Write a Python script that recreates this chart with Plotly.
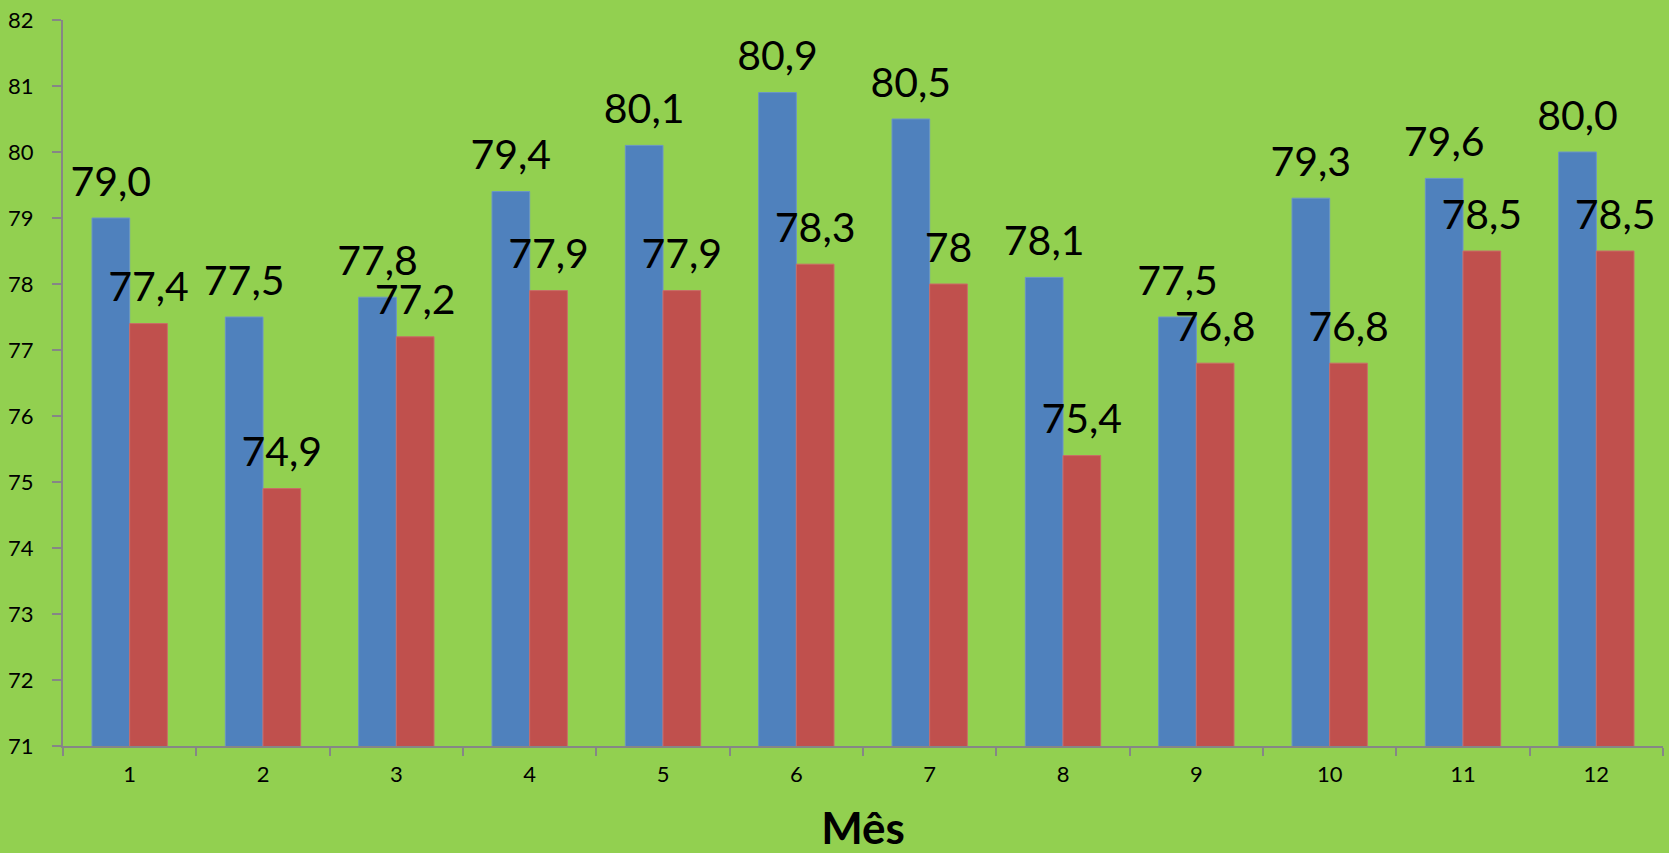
import plotly.graph_objects as go

meses = [str(m) for m in range(1, 13)]
serie_azul = [79.0, 77.5, 77.8, 79.4, 80.1, 80.9, 80.5, 78.1, 77.5, 79.3, 79.6, 80.0]
serie_vermelha = [77.4, 74.9, 77.2, 77.9, 77.9, 78.3, 78.0, 75.4, 76.8, 76.8, 78.5, 78.5]
y_ticks = list(range(71, 83))

FONT = "Lato"
VERDE = "#92D050"
CINZA = "#868686"


def rotulo_fixo(v):
    return f"{v:.1f}".replace(".", ",")


def rotulo_geral(v):
    return f"{v:g}".replace(".", ",")


fig = go.Figure()
series = [
    ("a", serie_azul, "#4F81BD", "#6A95C8", rotulo_fixo),
    ("v", serie_vermelha, "#C0504D", "#CB6B68", rotulo_geral),
]
for grupo, valores, cor, borda, fmt in series:
    fig.add_trace(go.Bar(
        x=meses, y=valores, offsetgroup=grupo,
        marker=dict(color=cor, line=dict(color=borda, width=1)),
    ))
for grupo, valores, cor, borda, fmt in series:
    # value labels sitting above each bar
    fig.add_trace(go.Scatter(
        x=meses, y=valores, offsetgroup=grupo,
        mode="markers+text",
        marker=dict(size=18, opacity=0),
        text=[fmt(v) for v in valores],
        textposition="top center", cliponaxis=False,
        textfont=dict(family=FONT, size=41, color="black"),
        hoverinfo="skip",
    ))

fig.update_layout(
    width=1669, height=853,
    barmode="group", bargap=0.435, bargroupgap=0,
    scattermode="group", scattergap=0.435,
    paper_bgcolor=VERDE, plot_bgcolor=VERDE,
    showlegend=False,
    margin=dict(l=63, r=6, t=17, b=107),
    font=dict(family=FONT, color="black"),
    xaxis=dict(
        type="category",
        showline=True, linecolor=CINZA, linewidth=2,
        ticks="outside", tickson="boundaries", ticklen=8, tickcolor=CINZA, tickwidth=2,
        tickfont=dict(size=22, family=FONT, color="black"),
        ticklabelstandoff=8,
        showgrid=False, zeroline=False,
        title=dict(text="<b>Mês</b>", font=dict(size=44, family=FONT, color="black"), standoff=28),
    ),
    yaxis=dict(
        range=[71, 82], tickvals=y_ticks,
        showline=True, linecolor=CINZA, linewidth=2,
        ticks="outside", ticklen=9, tickcolor=CINZA, tickwidth=2,
        tickfont=dict(size=22, family=FONT, color="black"),
        ticklabelstandoff=14,
        showgrid=False, zeroline=False,
    ),
)

fig.write_html("out.html")
